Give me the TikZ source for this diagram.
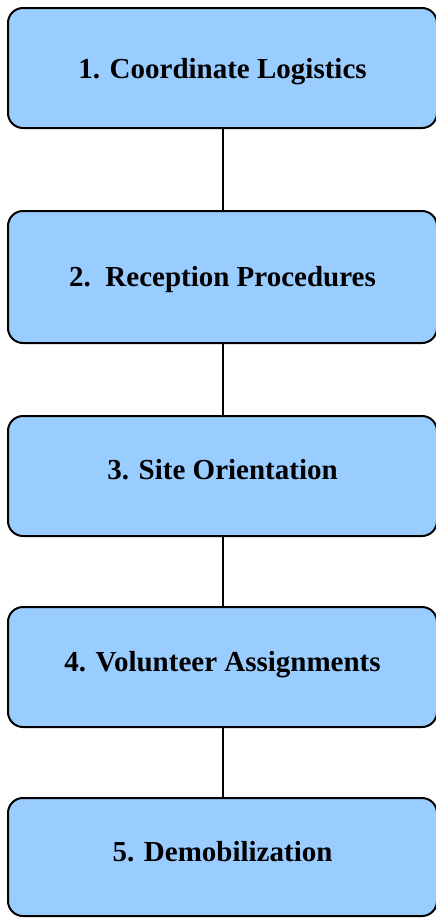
\documentclass[tikz,border=0pt]{standalone}
\usepackage{fontspec}
\setmainfont{Liberation Serif}
\usetikzlibrary{positioning}
\definecolor{mblue}{RGB}{153,204,255}

\begin{document}
\begin{tikzpicture}[
    x=1pt, y=1pt,
    stage_box/.style={rectangle, rounded corners=15pt, draw=black, fill=mblue, line width=2pt,
        minimum width=429pt, minimum height=120pt, inner sep=0pt,
        font=\bfseries\fontsize{29}{34}\selectfont, text height=20pt, text depth=6pt},
    stage_link/.style={line width=2pt},
    ]
\useasboundingbox (0,0) rectangle (436,-918);

\node[stage_box, text depth=0pt] (coord) at (222.5,-68) {1. Coordinate Logistics};
\node[stage_box, minimum height=132pt, text depth=2pt, below=81pt of coord] (recep) {2.\ \ Reception Procedures};
\node[stage_box, text depth=14pt, below=71pt of recep] (orient) {3. Site Orientation};
\node[stage_box, text depth=12pt, below=69pt of orient] (assign) {4. Volunteer Assignments};
\node[stage_box, minimum height=118pt, text depth=11pt, below=69pt of assign] (demob) {5. Demobilization};

\draw[stage_link] (coord) -- (recep);
\draw[stage_link] (recep) -- (orient);
\draw[stage_link] (orient) -- (assign);
\draw[stage_link] (assign) -- (demob);

\end{tikzpicture}
\end{document}
